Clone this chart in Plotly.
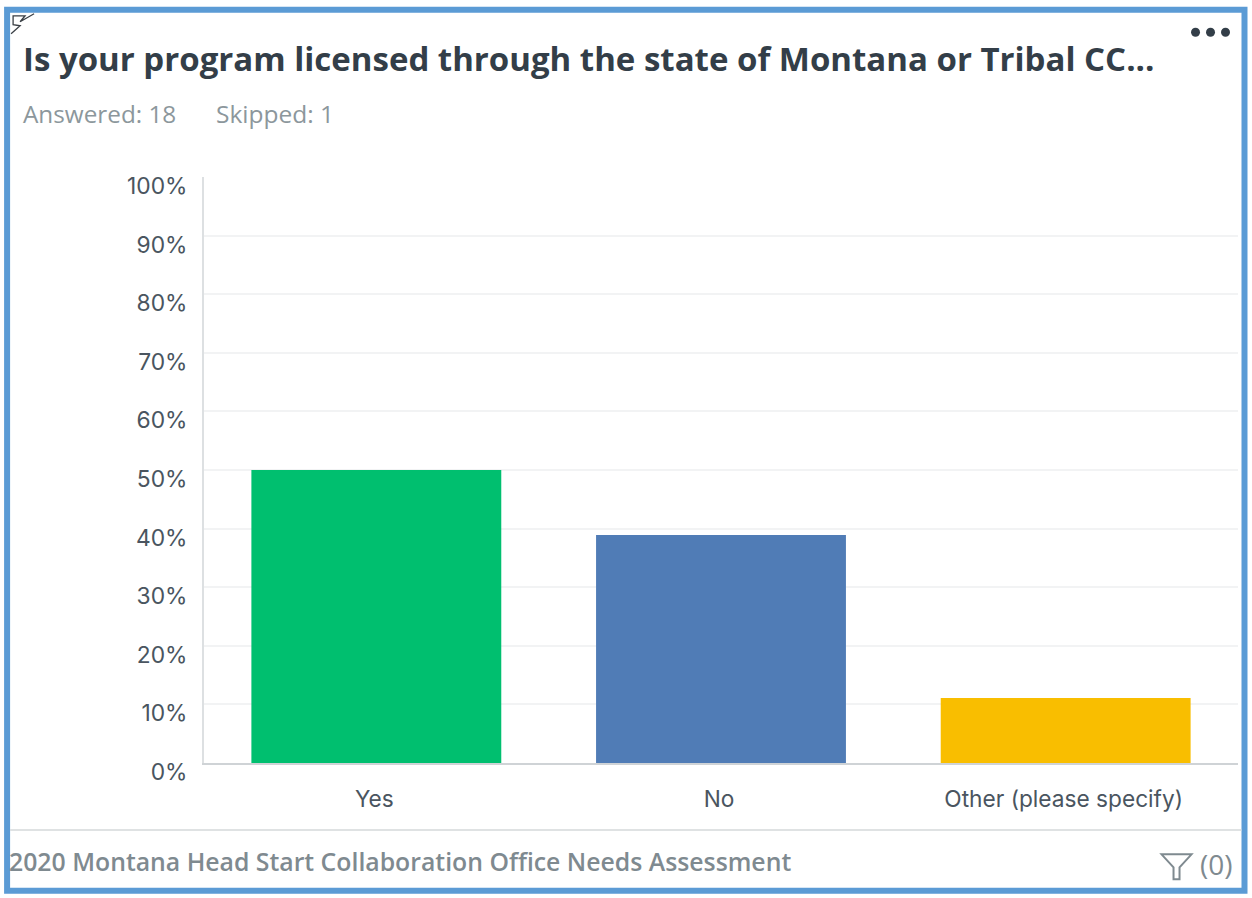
import plotly.graph_objects as go

categories = ["Yes", "No", "Other (please specify)"]
values = [50.0, 38.9, 11.1]
bar_colors = ["#00BF6F", "#507CB6", "#F9BE00"]
y_ticks = list(range(0, 101, 10))
y_tick_labels = [f"{v}%" for v in y_ticks]
title_text = "Is your program licensed through the state of Montana or Tribal CC..."
answered_text = "Answered: 18"
skipped_text = "Skipped: 1"
footer_text = "2020 Montana Head Start Collaboration Office Needs Assessment"
filter_text = "(0)"

W, H = 1252, 898
L, R, T, B = 204, 1238.5, 176.5, 763.5
FONT = "Inter"
HEAD_FONT = "Open Sans"

def px(x):
    return (x - L) / (R - L)

def py(y):
    return (B - y) / (B - T)

fig = go.Figure(go.Bar(x=categories, y=values, marker=dict(color=bar_colors, line_width=0),
                       hoverinfo="x+y"))

def text(x, y, s, size, color, anchor="left", weight=400):
    fig.add_annotation(x=px(x), y=py(y), xref="paper", yref="paper", text=s, showarrow=False,
                       xanchor=anchor, yanchor="middle", xshift=0, align=anchor,
                       font=dict(family=HEAD_FONT, size=size, color=color, weight=weight))

text(21, 57.5, title_text, 33, "#333E48", weight=700)
text(21, 113, answered_text, 24.3, "#8C979C")
text(214, 113, skipped_text, 24.5, "#8C979C")
text(7, 862, footer_text, 24.8, "#7F8A90", weight=600)
text(1198, 865, filter_text, 28, "#7F8A90", weight=500)

shapes = []
# outer frame
shapes.append(dict(type="rect", x0=px(7), x1=px(1245), y0=py(9), y1=py(891.5),
                   line=dict(color="#5B9BD5", width=6), fillcolor="rgba(0,0,0,0)"))
# footer divider
shapes.append(dict(type="line", x0=px(10), x1=px(1242), y0=py(830.5), y1=py(830.5),
                   line=dict(color="#D5D8DA", width=1.5)))
# three-dot menu
for cx in (1196, 1211, 1226):
    shapes.append(dict(type="circle", x0=px(cx - 4.5), x1=px(cx + 4.5), y0=py(27), y1=py(36),
                       fillcolor="#333E48", line_width=0))
# corner mark
shapes.append(dict(type="path",
                   path=f"M {px(11)} {py(33)} L {px(20)} {py(25)} L {px(13)} {py(24)} L {px(13)} {py(15)} "
                        f"L {px(25)} {py(15)} L {px(20)} {py(21)} L {px(34)} {py(13)}",
                   xref="paper", yref="paper", line=dict(color="#3A3F45", width=1.3)))
# filter icon
shapes.append(dict(type="path",
                   path=f"M {px(1162)} {py(855)} L {px(1192)} {py(855)} L {px(1180)} {py(868)} "
                        f"L {px(1180)} {py(880)} L {px(1174)} {py(880)} L {px(1174)} {py(868)} Z",
                   xref="paper", yref="paper", line=dict(color="#7F8A90", width=2),
                   fillcolor="rgba(0,0,0,0)"))
for s in shapes:
    s.setdefault("xref", "paper")
    s.setdefault("yref", "paper")
    s["layer"] = "above"

fig.update_layout(
    width=W, height=H, autosize=False,
    margin=dict(l=L, r=W - R, t=T, b=H - B, pad=0),
    paper_bgcolor="white", plot_bgcolor="white",
    bargap=0.275, showlegend=False, shapes=shapes,
    font=dict(family=FONT, size=20, color="#4A5560"),
    xaxis=dict(showgrid=False, showline=True, linecolor="#CFD3D6", linewidth=2, ticks="",
               tickfont=dict(family=FONT, size=22.7, color="#4A5560"), ticklabelstandoff=15, ticklabelshift=-2),
    yaxis=dict(range=[0, 100], tickvals=y_ticks, ticktext=y_tick_labels, showgrid=True,
               gridcolor="#F2F3F4", gridwidth=1.5, showline=True, linecolor="#DDE0E2", linewidth=2,
               zeroline=False, ticks="", tickfont=dict(family=FONT, size=22.8, color="#4A5560"),
               ticklabelshift=9, ticklabelstandoff=10),
)

fig.write_html("out.html", post_script="document.body.style.margin='0';", config={"displayModeBar": False})
